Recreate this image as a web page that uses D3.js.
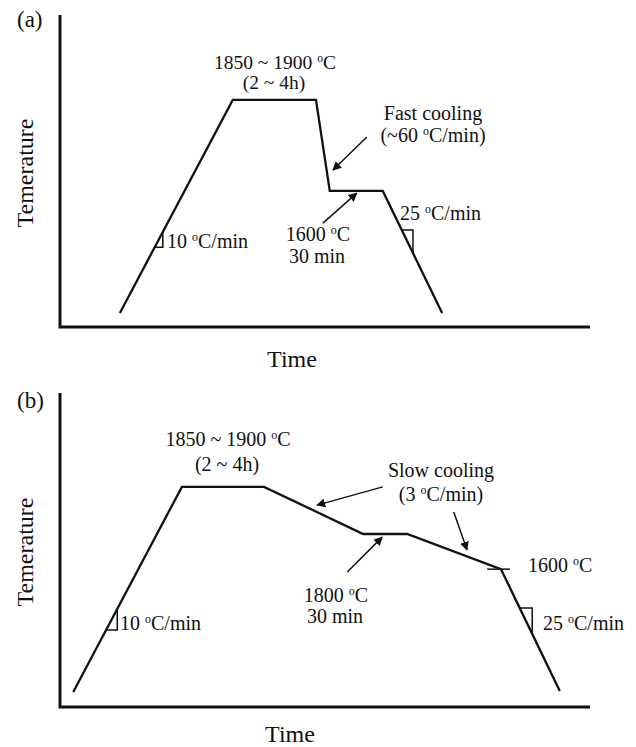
<!DOCTYPE html>
<html>
<head>
<meta charset="utf-8">
<script src="https://cdn.jsdelivr.net/npm/d3@7"></script>
<style>
  html, body { margin: 0; padding: 0; background: #fff; }
  svg { display: block; }
  text { font-family: "Liberation Serif", "Times New Roman", serif; fill: #111; }
</style>
</head>
<body>
<svg id="chart" width="636" height="747"></svg>
<script>
// Heat-treatment schedules, schematic units (time and temperature 0-100 along each axis)
const timeA = [11.3, 32.6, 48.3, 50.9, 60.9, 72.1];
const tempA = [4.5, 72.8, 72.8, 43.6, 43.6, 4.5];

const timeB = [2.5, 23.0, 38.5, 57.2, 65.5, 83.2, 94.3];
const tempB = [4.8, 70.1, 70.1, 55.1, 55.1, 43.9, 5.1];

// Rate markers: segment index, temperature of the horizontal leg, time of the vertical leg
const slopeA = [{seg: 0, T: 25.6, t: 19.4}, {seg: 4, T: 31.1, t: 66.6}];
const slopeB = [{seg: 0, T: 24.5, t: 10.8}, {seg: 5, T: 31.5, t: 89.1}];

// Callout arrows [fromTime, fromTemp, toTime, toTemp]
const arrowsA = [[57.9, 60.9, 51.5, 50.3], [49.6, 33.3, 56.0, 42.9]];
const arrowsB = [[60.9, 70.1, 48.5, 64.3], [74.3, 62.1, 76.8, 50.0], [54.2, 43.0, 60.8, 54.1]];

// 1600 °C mark on the slow-cooling profile [time from, time to, temperature]
const tickB = [80.6, 84.9, 43.9];

const labelsA = [
  {text: "(a)", x: 17, y: 27, size: 23, anchor: "start"},
  {text: "1850 ~ 1900 {o}C", x: 275, y: 69, size: 19.5, anchor: "middle"},
  {text: "(2 ~ 4h)", x: 274, y: 89, size: 19.5, anchor: "middle"},
  {text: "Fast cooling", x: 433, y: 120, size: 20, anchor: "middle"},
  {text: "(~60 {o}C/min)", x: 433, y: 142, size: 20, anchor: "middle"},
  {text: "1600 {o}C", x: 318, y: 241, size: 20, anchor: "middle"},
  {text: "30 min", x: 317, y: 263, size: 20, anchor: "middle"},
  {text: "25 {o}C/min", x: 400, y: 220, size: 20, anchor: "start"},
  {text: "10 {o}C/min", x: 167, y: 248, size: 20, anchor: "start"},
  {text: "Time", x: 292, y: 367, size: 24, anchor: "middle"}
];
const labelsB = [
  {text: "(b)", x: 17, y: 408, size: 23, anchor: "start"},
  {text: "1850 ~ 1900 {o}C", x: 228, y: 446, size: 20, anchor: "middle"},
  {text: "(2 ~ 4h)", x: 227, y: 471, size: 20, anchor: "middle"},
  {text: "Slow cooling", x: 441, y: 477, size: 20, anchor: "middle"},
  {text: "(3 {o}C/min)", x: 441, y: 501, size: 20, anchor: "middle"},
  {text: "1600 {o}C", x: 528, y: 572, size: 20, anchor: "start"},
  {text: "1800 {o}C", x: 336, y: 602, size: 20, anchor: "middle"},
  {text: "30 min", x: 335, y: 623, size: 20, anchor: "middle"},
  {text: "10 {o}C/min", x: 120, y: 630, size: 20, anchor: "start"},
  {text: "25 {o}C/min", x: 543, y: 630, size: 20, anchor: "start"},
  {text: "Time", x: 290, y: 742, size: 24, anchor: "middle"}
];

const svg = d3.select("#chart");

svg.append("defs").append("marker")
  .attr("id", "head")
  .attr("viewBox", "0 0 10 10")
  .attr("refX", 9).attr("refY", 5)
  .attr("markerWidth", 9).attr("markerHeight", 9)
  .attr("markerUnits", "userSpaceOnUse")
  .attr("orient", "auto")
  .append("path").attr("d", "M0,0 L10,5 L0,10 Z").attr("fill", "#111");

function addLabel(g, d) {
  const t = g.append("text")
    .attr("x", d.x).attr("y", d.y)
    .attr("text-anchor", d.anchor)
    .attr("font-size", d.size);
  const parts = d.text.split("{o}");
  parts.forEach((p, i) => {
    if (i > 0) {
      t.append("tspan").attr("font-size", d.size * 0.6).attr("dy", -d.size * 0.36).text("o");
      t.append("tspan").attr("dy", d.size * 0.36).text(p);
    } else {
      t.append("tspan").text(p);
    }
  });
}

function drawPanel(cfg) {
  const x = d3.scaleLinear().domain([0, 100]).range([60, 590]);
  const y = d3.scaleLinear().domain([0, 100]).range([cfg.bottom, cfg.top]);
  const g = svg.append("g");

  // axes: plain thick lines without ticks
  g.append("path")
    .attr("d", d3.line()([[x(0), y(100)], [x(0), y(0)], [x(100), y(0)]]))
    .attr("fill", "none").attr("stroke", "#111").attr("stroke-width", 3)
    .attr("stroke-linejoin", "miter");

  const pts = cfg.time.map((t, i) => [t, cfg.temp[i]]);
  const line = d3.line().x(d => x(d[0])).y(d => y(d[1]));
  g.append("path").attr("d", line(pts))
    .attr("fill", "none").attr("stroke", "#111").attr("stroke-width", 2.3)
    .attr("stroke-linejoin", "miter");

  // rate triangles on ramps
  cfg.slopes.forEach(s => {
    const p0 = pts[s.seg], p1 = pts[s.seg + 1];
    const tAtT = p0[0] + (s.T - p0[1]) / (p1[1] - p0[1]) * (p1[0] - p0[0]);
    const TAtt = p0[1] + (s.t - p0[0]) / (p1[0] - p0[0]) * (p1[1] - p0[1]);
    g.append("path")
      .attr("d", line([[tAtT, s.T], [s.t, s.T], [s.t, TAtt]]))
      .attr("fill", "none").attr("stroke", "#111").attr("stroke-width", 1.5);
  });

  cfg.arrows.forEach(a => {
    g.append("line")
      .attr("x1", x(a[0])).attr("y1", y(a[1]))
      .attr("x2", x(a[2])).attr("y2", y(a[3]))
      .attr("stroke", "#111").attr("stroke-width", 1.5)
      .attr("marker-end", "url(#head)");
  });

  if (cfg.tick) {
    g.append("line")
      .attr("x1", x(cfg.tick[0])).attr("x2", x(cfg.tick[1]))
      .attr("y1", y(cfg.tick[2])).attr("y2", y(cfg.tick[2]))
      .attr("stroke", "#111").attr("stroke-width", 1.5);
  }

  g.append("text")
    .attr("transform", `translate(33,${(y(0) + y(100)) / 2 + 2}) rotate(-90)`)
    .attr("text-anchor", "middle").attr("font-size", 24)
    .text("Temerature");

  cfg.labels.forEach(d => addLabel(g, d));
}

drawPanel({top: 15, bottom: 327, time: timeA, temp: tempA, slopes: slopeA, arrows: arrowsA, labels: labelsA});
drawPanel({top: 393, bottom: 707, time: timeB, temp: tempB, slopes: slopeB, arrows: arrowsB, tick: tickB, labels: labelsB});
</script>
</body>
</html>
